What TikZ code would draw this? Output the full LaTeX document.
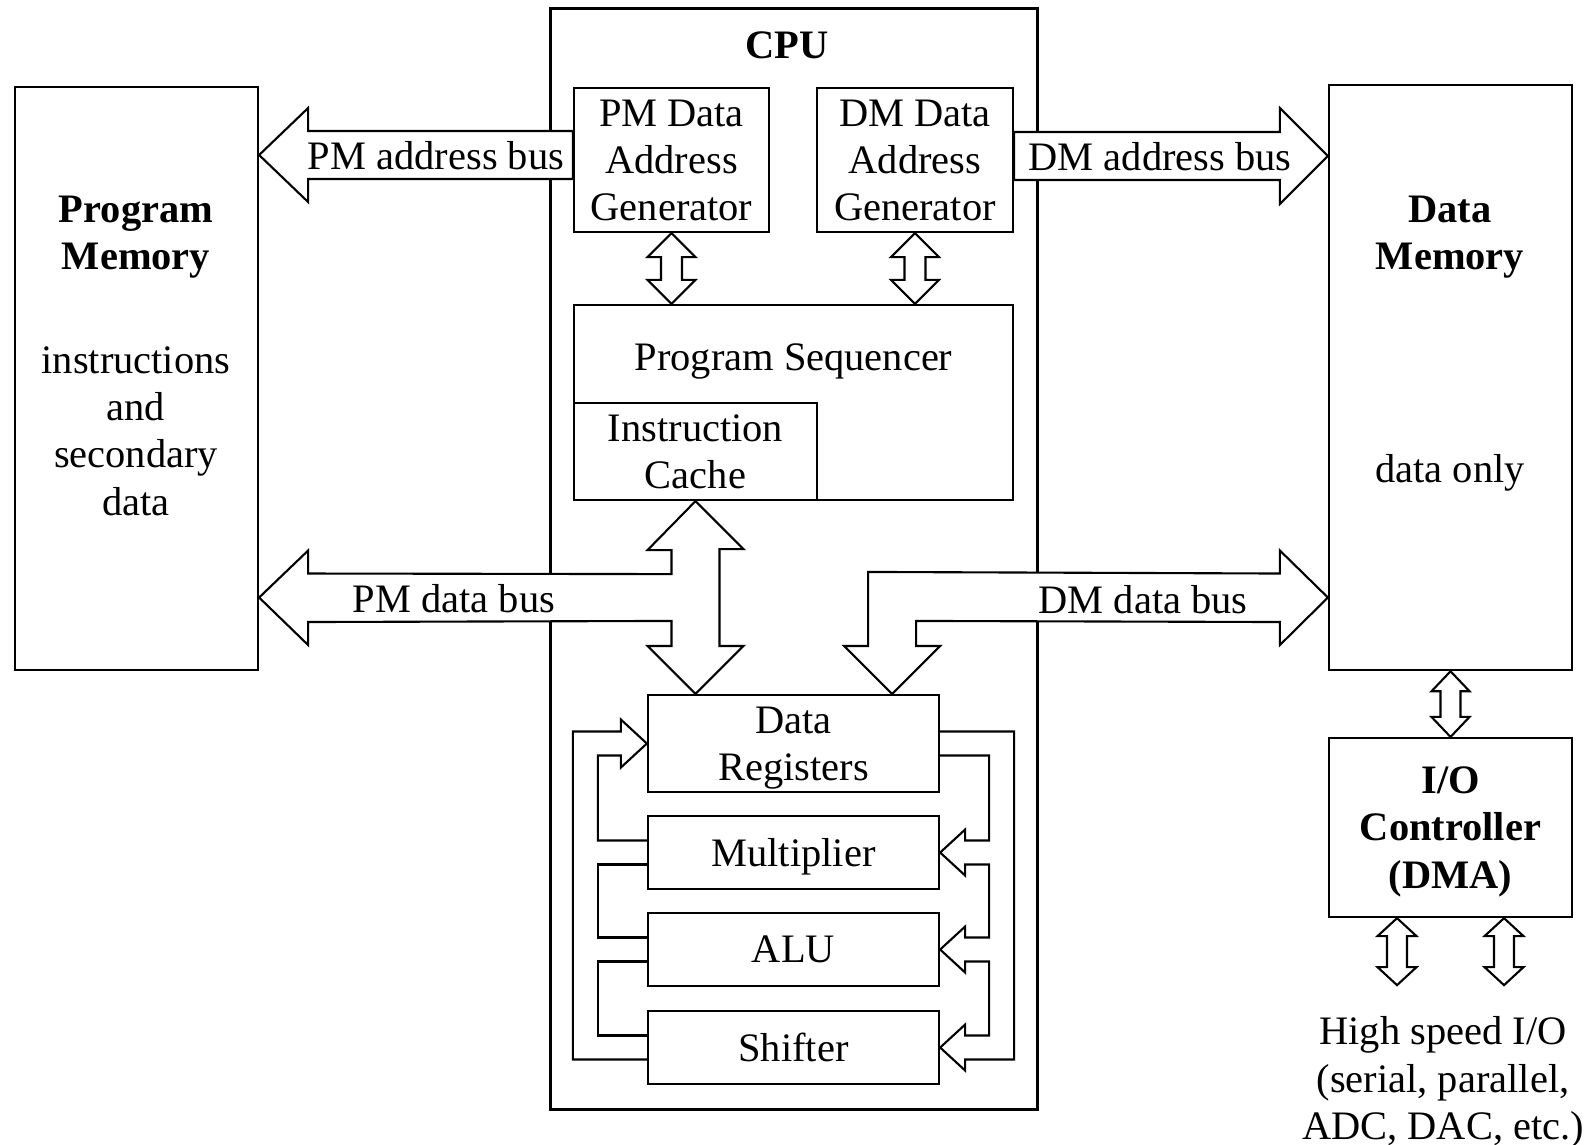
\documentclass[tikz,border=0pt]{standalone}
\usepackage{fontspec}
\setmainfont{Liberation Serif}
\usetikzlibrary{
    calc,
    positioning
}
\tikzset{
    % Blocks
    block/.style={rectangle,draw,line width=0.6pt,fill=white,inner sep=0pt,align=center},
    block size/.style 2 args={minimum width=#1,minimum height=#2},
    cpu frame/.style={line width=0.9pt},
    %
    % Buses and wires
    bus/.style={draw,fill=white,line width=0.6pt,line join=miter},
    wire/.style={draw,line width=0.6pt,line join=miter},
    %
    % Text
    title text/.style={font=\fontsize{11.5}{13.4}\selectfont\bfseries,align=center}
}
\tikzstyle{every node}=[font=\fontsize{11.5}{13.4}\selectfont,text depth=0pt]

% two-headed hollow arrow: top tip, bottom tip, shaft half width, head half width, head length
\newcommand\twowayarrow[5]{%
    \draw[bus] (#1) -- ++(#4,#5) -- ++(-#4+#3,0) -- ($(#2)+(#3,-#5)$) -- ++(#4-#3,0) -- (#2)
        -- ++(-#4,-#5) -- ++(#4-#3,0) -- ($(#1)+(-#3,#5)$) -- ++(-#4+#3,0) -- cycle;}

\begin{document}
\begin{tikzpicture}[x=0.01cm,y=-0.01cm]
    \useasboundingbox (0,0) rectangle (1592,1144);
    % CPU
    \node[block,cpu frame,block size={4.86cm}{11cm}] (CPU) at (794,559) {};
    \node[title text] (cputitle) at (787,45) {CPU};
    % memories and I/O
    \node[block,block size={2.43cm}{5.83cm}] (PM) at (136.5,378.5) {};
    \node[title text] (pmtitle) at (136,233) {Program\\Memory};
    \node[align=center] (pmtext) at (136,431) {instructions\\and\\secondary\\data};
    \node[block,block size={2.43cm}{5.85cm}] (DM) at (1450.5,377.5) {};
    \node[title text] (dmtitle) at (1450,233) {Data\\Memory};
    \node (dmtext) at (1450,468) {data only};
    \node[block,block size={2.43cm}{1.79cm},font=\fontsize{11.5}{13.4}\selectfont\bfseries] (IO) at (1450.5,827.5) {I/O\\Controller\\(DMA)};
    \node[align=center] (hsio) at (1443,1078) {High speed I/O\\(serial, parallel,\\ADC, DAC, etc.)};
    % inside the CPU
    \node[block,block size={1.95cm}{1.44cm}] (PMAG) at (671.5,160) {PM Data\\Address\\Generator};
    \node[block,block size={1.96cm}{1.44cm}] (DMAG) at (915,160) {DM Data\\Address\\Generator};
    \node[block,block size={4.39cm}{1.95cm}] (PS) at (793.5,402.5) {};
    \node (pstext) at (793.5,357) {Program Sequencer};
    \node[block,block size={2.43cm}{0.97cm}] (IC) at (695.5,451.5) {Instruction\\Cache};
    \node[block,block size={2.91cm}{0.97cm}] (DR) at (793.5,743.5) {Data\\Registers};
    \node[block,block size={2.91cm}{0.73cm}] (Mult) at (793.5,852.5) {Multiplier};
    \node[block,block size={2.91cm}{0.73cm}] (ALU) at (793.5,949.5) {ALU};
    \node[block,block size={2.91cm}{0.73cm}] (Shifter) at (793.5,1047.5) {Shifter};

    % address buses
    \coordinate (pmab) at (PMAG.west |- 0,155);
    \coordinate (dmab) at (DMAG.east |- 0,156);
    \draw[bus] ($(pmab)+(0,-24)$) -- ($(PM.east |- pmab)+(49,-24)$) -- ++(0,-23) -- (PM.east |- pmab)
        -- ++(49,47) -- ++(0,-23) -- ($(pmab)+(0,24)$) -- cycle;
    \draw[bus] ($(dmab)+(0,-24)$) -- ($(DM.west |- dmab)+(-48,-24)$) -- ++(0,-24) -- (DM.west |- dmab)
        -- ++(-48,48) -- ++(0,-24) -- ($(dmab)+(0,24)$) -- cycle;
    \node (pmabtext) at (436,155) {PM address bus};
    \node (dmabtext) at (1160,156) {DM address bus};

    % data buses
    \coordinate (pmdb) at (PM.east |- 0,597.5);
    \coordinate (dmdb) at (DM.west |- 0,597.5);
    \coordinate (icdr) at (IC.south |- DR.north);
    \coordinate (dmdr) at ($(DR.north east)+(-48,0)$);
    \draw[bus] (pmdb) -- ++(49,-47) -- ++(0,23) -- ($(IC.south)+(-24,73)$) -- ++(0,-24) -- ++(-24,0)
        -- (IC.south) -- ++(48,48) -- ++(-24,0) -- ($(icdr)+(24,-48)$) -- ++(24,0) -- (icdr)
        -- ++(-48,-48) -- ++(24,0) -- ++(0,-25) -- ($(pmdb)+(49,24.5)$) -- ++(0,23) -- cycle;
    \draw[bus] (dmdb) -- ++(-48,-47) -- ++(0,23) -- ($(dmdr)+(-24,-122)$) -- ($(dmdr)+(-24,-48)$)
        -- ++(-24,0) -- (dmdr) -- ++(48,-48) -- ++(-24,0) -- ($(dmdr)+(24,-73)$)
        -- ($(dmdb)+(-48,24.5)$) -- ++(0,23) -- cycle;
    \node (pmdbtext) at (454,598) {PM data bus};
    \node (dmdbtext) at (1143,599) {DM data bus};

    % small two-way arrows
    \coordinate (pmps) at (PMAG.south |- PS.north);
    \coordinate (dmps) at (DMAG.south |- PS.north);
    \twowayarrow{PMAG.south}{pmps}{10.5}{24}{24}
    \twowayarrow{DMAG.south}{dmps}{10.5}{24}{24}
    \twowayarrow{DM.south}{IO.north}{10}{19}{20}
    \coordinate (ioA) at ($(IO.south)+(-53.5,0)$);
    \coordinate (ioB) at ($(IO.south)+(53.5,0)$);
    \coordinate (hsA) at ($(ioA)+(0,67)$);
    \coordinate (hsB) at ($(ioB)+(0,67)$);
    \twowayarrow{ioA}{hsA}{10}{19.5}{18}
    \twowayarrow{ioB}{hsB}{10}{19.5}{18}

    % feedback around the data registers
    \draw[wire] ($(Shifter.west)+(0,12)$) -| ($(DR.west)+(-74,-12)$) -- ++(48,0) -- ++(0,-12) -- (DR.west)
        -- ++(-26,24) -- ++(0,-12) -| ($(Mult.west)+(-49,-12)$) -- ++(49,0);
    \draw[wire] ($(Mult.west)+(0,12)$) -| ($(ALU.west)+(-49,-12)$) -- ++(49,0);
    \draw[wire] ($(ALU.west)+(0,12)$) -| ($(Shifter.west)+(-49,-12)$) -- ++(49,0);
    \draw[wire] ($(DR.east)+(0,-12)$) -- ++(74,0) |- ($(Shifter.east)+(25,12)$) -- ++(0,11) -- (Shifter.east)
        -- ++(25,-23) -- ++(0,11) -| ($(ALU.east)+(49,12)$) -- ++(-24,0) -- ++(0,11) -- (ALU.east)
        -- ++(25,-23) -- ++(0,11) -| ($(Mult.east)+(49,12)$) -- ++(-24,0) -- ++(0,11) -- (Mult.east)
        -- ++(25,-23) -- ++(0,11) -| ($(DR.east)+(49,12)$) -- ++(-49,0);
\end{tikzpicture}
\end{document}
